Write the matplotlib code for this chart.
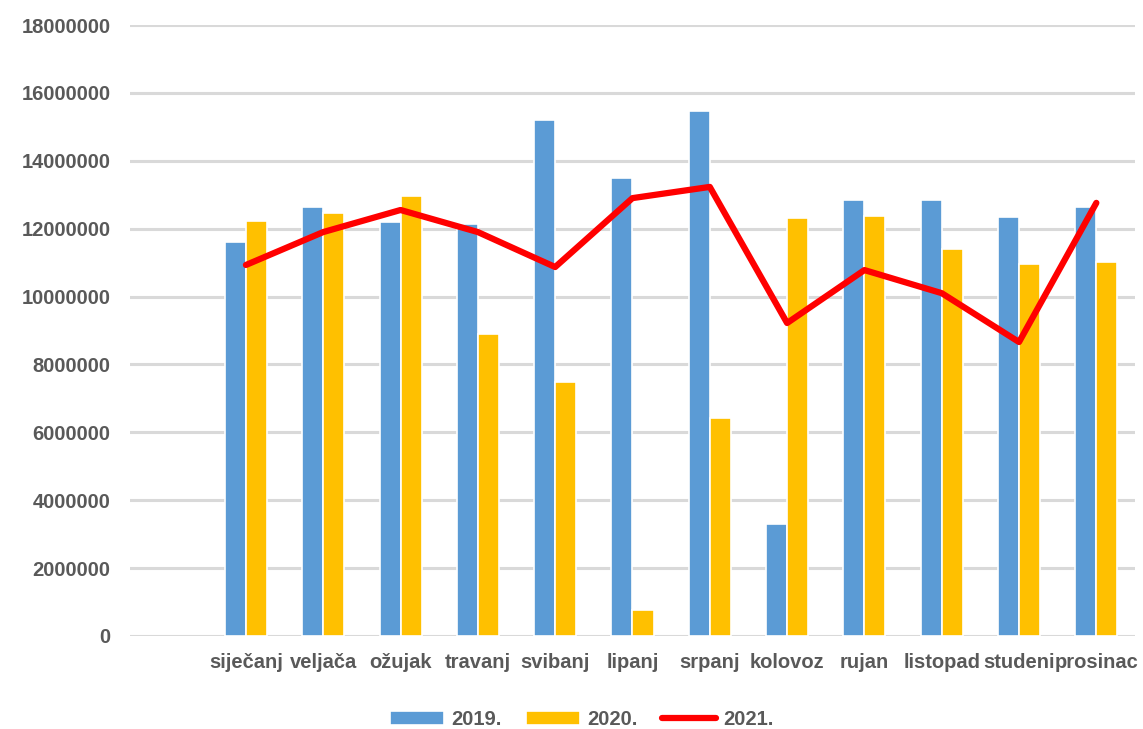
import numpy as np
import matplotlib.pyplot as plt

months = ['', 'siječanj', 'veljača', 'ožujak', 'travanj', 'svibanj', 'lipanj',
          'srpanj', 'kolovoz', 'rujan', 'listopad', 'studeni', 'prosinac']
v2019 = [np.nan, 11620000, 12640000, 12200000, 12140000, 15200000, 13500000,
         15470000, 3300000, 12850000, 12850000, 12350000, 12640000]
v2020 = [np.nan, 12230000, 12460000, 12960000, 8900000, 7480000, 770000,
         6420000, 12320000, 12370000, 11400000, 10960000, 11020000]
v2021 = [np.nan, 10930000, 11900000, 12550000, 11900000, 10870000, 12900000,
         13230000, 9220000, 10780000, 10100000, 8660000, 12760000]
yticks = np.arange(0, 18000001, 2000000)

txt = '#595959'
plt.rcParams['font.family'] = ['Liberation Sans', 'DejaVu Sans']
plt.rcParams['font.weight'] = 'bold'

fig = plt.figure(figsize=(11.43, 7.29), dpi=100)
ax = fig.add_axes([0.1137, 0.1276, 0.8793, 0.8381])

x = np.arange(len(months))
w = 0.272
b1 = ax.bar(x - 0.136, v2019, w, color='#5B9BD5', edgecolor='white', linewidth=1.2, label='2019.', zorder=2)
b2 = ax.bar(x + 0.136, v2020, w, color='#FFC000', edgecolor='white', linewidth=1.2, label='2020.', zorder=2)
ln, = ax.plot(x, v2021, color='#FF0000', lw=4.5, solid_joinstyle='round', solid_capstyle='round', label='2021.', zorder=3)

ax.set_xlim(-0.5, 12.5)
ax.set_ylim(0, 18000000)
ax.set_yticks(yticks)
ax.set_yticklabels([str(v) for v in yticks])
ax.set_xticks(x)
ax.set_xticklabels(months)
ax.yaxis.grid(True, color='#D9D9D9', lw=2.2, zorder=0)
ax.set_axisbelow(True)
for s in ax.spines.values():
    s.set_visible(False)
ax.tick_params(length=0, labelsize=14.5, labelcolor=txt)
ax.tick_params(axis='y', pad=14)
ax.tick_params(axis='x', pad=12)

leg = fig.legend([b1, b2, ln], ['2019.', '2020.', '2021.'], loc='center',
                 bbox_to_anchor=(0.509, 0.013), ncol=3, frameon=False,
                 fontsize=14.5, handlelength=2.65, handleheight=0.7, columnspacing=1.25,
                 handletextpad=0.35)
for t in leg.get_texts():
    t.set_color(txt)

fig.savefig('out.png', dpi=100)
